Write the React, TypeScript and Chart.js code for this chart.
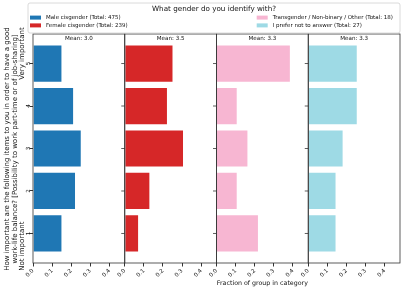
import React, { useEffect, useRef } from "react";
import { Chart, registerables } from "chart.js";

Chart.register(...registerables);

// ---- data ----
const categories = [1, 2, 3, 4, 5];
const groupLabels = [
  "Male cisgender (Total: 475)",
  "Female cisgender (Total: 239)",
  "Transgender / Non-binary / Other (Total: 18)",
  "I prefer not to answer (Total: 27)",
];
const groupColors = ["#1f77b4", "#d62728", "#f7b6d2", "#9edae5"];
const maleFractions = [0.154, 0.225, 0.255, 0.215, 0.154];
const femaleFractions = [0.075, 0.134, 0.31, 0.226, 0.255];
const transFractions = [0.222, 0.111, 0.167, 0.111, 0.389];
const noAnswerFractions = [0.148, 0.148, 0.185, 0.259, 0.259];
const groupMeans = ["3.0", "3.5", "3.3", "3.3"];
const xTicks = [0, 0.1, 0.2, 0.3, 0.4];
const xMax = 0.48;
const legendTitle = "What gender do you identify with?";
const yTitleLines = [
  "How important are the following items to you in order to have a good",
  "work-life balance? [Possibility to work part-time or of job-sharing]",
];
const yTitleLow = "Not important";
const yTitleHigh = "Very important";
const xTitle = "Fraction of group in category";

const allFractions = [maleFractions, femaleFractions, transFractions, noAnswerFractions];

const FONT = "'DejaVu Sans', 'Noto Sans', sans-serif";

const decorPlugin = {
  id: "decor",
  afterDraw(chart: any) {
    const ctx: CanvasRenderingContext2D = chart.ctx;
    const area = chart.chartArea;
    ctx.save();
    // panel frames + left ticks
    for (let i = 0; i < 4; i++) {
      const s = chart.scales["x" + i];
      ctx.strokeStyle = "#333";
      ctx.lineWidth = 0.8;
      ctx.strokeRect(s.left, area.top, s.right - s.left, area.bottom - area.top);
      if (i > 0) {
        const ys = chart.scales.y;
        ctx.beginPath();
        for (const c of categories) {
          const py = ys.getPixelForValue(c);
          ctx.moveTo(s.left - 3.5, py);
          ctx.lineTo(s.left, py);
        }
        ctx.stroke();
      }
      // mean title
      ctx.fillStyle = "#111";
      ctx.font = `5.6px ${FONT}`;
      ctx.textAlign = "center";
      ctx.textBaseline = "middle";
      ctx.fillText("Mean: " + groupMeans[i], (s.left + s.right) / 2, area.top + 4.5);
      if (i === 2) {
        ctx.font = `6.3px ${FONT}`;
        ctx.fillText(xTitle, (s.left + s.right) / 2, 283);
      }
    }

    // y title
    ctx.fillStyle = "#111";
    ctx.font = `7px ${FONT}`;
    const cy = (area.top + area.bottom) / 2 + 0.5;
    const w1 = ctx.measureText(yTitleLines[0]).width;
    const lineXs = [7.4, 15, 22.6];
    ctx.textBaseline = "middle";
    for (let l = 0; l < 3; l++) {
      ctx.save();
      ctx.translate(lineXs[l], cy);
      ctx.rotate(-Math.PI / 2);
      if (l < 2) {
        ctx.textAlign = "center";
        ctx.fillText(yTitleLines[l], 0, 0);
      } else {
        ctx.textAlign = "left";
        ctx.fillText(yTitleLow, -w1 / 2, 0);
        ctx.textAlign = "right";
        ctx.fillText(yTitleHigh, w1 / 2, 0);
      }
      ctx.restore();
    }

    // legend
    const lx = 28, ly = 3, lw = 372, lh = 30;
    ctx.fillStyle = "rgba(255,255,255,0.8)";
    ctx.strokeStyle = "#d0d0d0";
    ctx.lineWidth = 0.8;
    ctx.beginPath();
    (ctx as any).roundRect(lx, ly, lw, lh, 2);
    ctx.fill();
    ctx.stroke();
    ctx.fillStyle = "#111";
    ctx.font = `7.2px ${FONT}`;
    ctx.textAlign = "center";
    ctx.textBaseline = "middle";
    ctx.fillText(legendTitle, lx + lw / 2, 9.5);
    ctx.font = `5.5px ${FONT}`;
    ctx.textAlign = "left";
    const cols = [30, 256.7];
    const rows = [17.6, 25.4];
    for (let i = 0; i < 4; i++) {
      const cx = cols[Math.floor(i / 2)];
      const ry = rows[i % 2];
      ctx.fillStyle = groupColors[i];
      ctx.fillRect(cx, ry - 2, 11, 4);
      ctx.fillStyle = "#111";
      ctx.fillText(groupLabels[i], cx + 16, ry);
    }
    ctx.restore();
  },
};

export default function App() {
  const ref = useRef<HTMLCanvasElement>(null);
  useEffect(() => {
    document.body.style.margin = "0";
    const canvas = ref.current!;
    const tickFont = { family: FONT, size: 5.6 };

    const xScales: any = {};
    for (let i = 0; i < 4; i++) {
      xScales["x" + i] = {
        type: "linear",
        position: "bottom",
        stack: "panels",
        min: 0,
        max: xMax,
        offset: false,
        afterBuildTicks: (axis: any) => {
          axis.ticks = xTicks.map((v) => ({ value: v }));
        },
        afterFit: (s: any) => {
          s.height = 28;
        },
        border: { display: false },
        grid: {
          display: true,
          offset: false,
          drawOnChartArea: false,
          drawTicks: true,
          tickLength: 3.5,
          color: "#333",
        },
        ticks: {
          minRotation: 45,
          maxRotation: 45,
          autoSkip: false,
          padding: 1,
          color: "#111",
          font: tickFont,
          callback: (v: any) => Number(v).toFixed(1),
        },
      };
    }

    const chart = new Chart(canvas, {
      type: "bar",
      data: {
        datasets: allFractions.map((fr, i) => ({
          label: groupLabels[i],
          data: categories.map((c, j) => ({ x: fr[j], y: c })),
          xAxisID: "x" + i,
          yAxisID: "y",
          backgroundColor: groupColors[i],
          borderColor: "rgba(255,255,255,0.45)",
          borderWidth: 1,
          barPercentage: 0.9,
          categoryPercentage: 1,
          grouped: false,
        })) as any,
      },
      options: {
        indexAxis: "y",
        animation: false,
        responsive: false,
        devicePixelRatio: 1,
        layout: { padding: { top: 34, right: 7, left: 0, bottom: 0 } },
        plugins: {
          legend: { display: false },
          tooltip: { enabled: false },
          title: { display: false },
        },
        scales: {
          ...xScales,
          y: {
            type: "linear",
            position: "left",
            min: 0.305,
            max: 5.695,
            offset: false,
            afterBuildTicks: (axis: any) => {
              axis.ticks = categories.map((v) => ({ value: v }));
            },
            afterFit: (s: any) => {
              s.width = 33;
            },
            border: { display: false },
            grid: {
              display: true,
              offset: false,
              drawOnChartArea: false,
              drawTicks: true,
              tickLength: 3.5,
              color: "#333",
            },
            ticks: {
              minRotation: 90,
              maxRotation: 90,
              crossAlign: "center",
              padding: -1,
              color: "#111",
              font: tickFont,
              callback: (v: any) => String(v),
            },
          },
        } as any,
      },
      plugins: [decorPlugin],
    });
    return () => chart.destroy();
  }, []);

  return (
    <div style={{ position: "relative", width: 407, height: 291, background: "#fff" }}>
      <canvas ref={ref} width={407} height={291} style={{ display: "block" }} />
    </div>
  );
}
